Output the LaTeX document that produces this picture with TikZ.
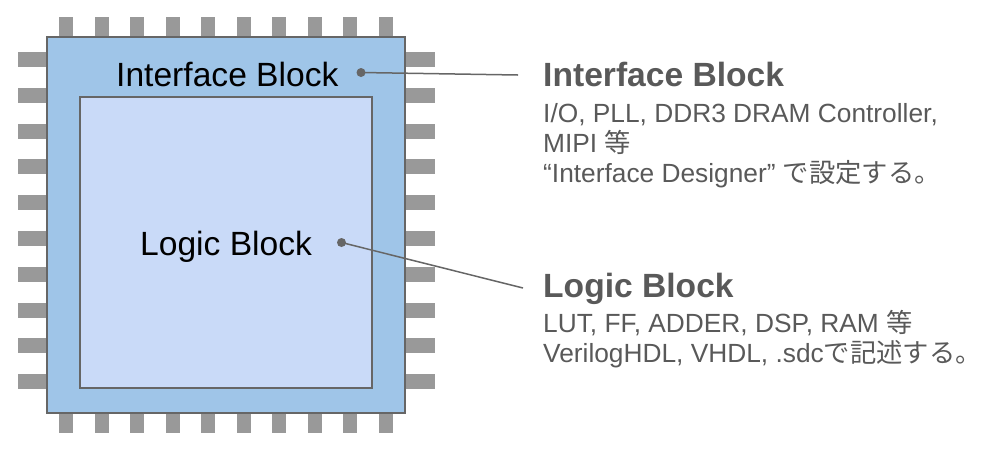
\documentclass[tikz,border=0pt]{standalone}
\usepackage{fontspec}
\setmainfont{Liberation Sans}
\newfontfamily\jpfont{Noto Sans CJK JP}

\definecolor{chipblue}{HTML}{9FC5E8}
\definecolor{coreblue}{HTML}{C9DAF8}
\definecolor{pingray}{HTML}{999999}
\definecolor{edgegray}{HTML}{666666}
\definecolor{textgray}{HTML}{595959}

\tikzset{
  chippin/.style={fill=pingray},
  block/.style={draw=edgegray, line width=1.5pt},
  chiplabel/.style={anchor=base west, inner sep=0, font=\fontsize{33.6}{40}\selectfont},
  dot/.style={circle, fill=edgegray, inner sep=0, minimum size=9pt},
  leader/.style={draw=edgegray, line width=1.5pt},
  headtext/.style={anchor=base west, inner sep=0, text=textgray, font=\bfseries\fontsize{33.6}{40}\selectfont},
  bodytext/.style={anchor=base west, inner sep=0, text=textgray, font=\fontsize{26.3}{30}\selectfont}
}

\begin{document}
\begin{tikzpicture}[x=1pt,y=-1pt]
\useasboundingbox (0,0) rectangle (995,451);
% pins round the chip
\foreach \i in {0,...,9}{
  \fill[chippin] (59+35.56*\i,17) rectangle ++(14,20);
  \fill[chippin] (59+35.56*\i,413) rectangle ++(14,20);
  \fill[chippin] (18,52+35.8*\i) rectangle ++(29,15);
  \fill[chippin] (405,52+35.8*\i) rectangle ++(30,15);
}
% chip and core
\filldraw[block, fill=chipblue] (47,37) rectangle (405,413);
\filldraw[block, fill=coreblue] (80,97) rectangle (372,388);
\node[chiplabel] (ifLabel) at (116,86) {Interface Block};
\node[chiplabel] (lgLabel) at (140,255) {Logic Block};

% leaders
\node[dot] (ifDot) at (361,72.5) {};
\node[dot] (lgDot) at (341.5,242.5) {};
\coordinate (ifEnd) at (518,75);
\coordinate (lgEnd) at (523,288);
\draw[leader] (ifDot.center) -- (ifEnd);
\draw[leader] (lgDot.center) -- (lgEnd);

% notes
\node[headtext] (ifHead) at (543,86) {Interface Block};
\node[bodytext] (ifLine1) at (543,122) {I/O, PLL, DDR3 DRAM Controller,};
\node[bodytext] (ifLine2) at (543,152) {MIPI {\jpfont 等}};
\node[bodytext] (ifLine3) at (543,182) {“Interface Designer” {\jpfont で設定する。}};

\node[headtext] (lgHead) at (543,297) {Logic Block};
\node[bodytext] (lgLine1) at (543,332) {LUT, FF, ADDER, DSP, RAM {\jpfont 等}};
\node[bodytext] (lgLine2) at (543,362) {VerilogHDL, VHDL, .sdc{\jpfont で記述する。}};
\end{tikzpicture}
\end{document}
